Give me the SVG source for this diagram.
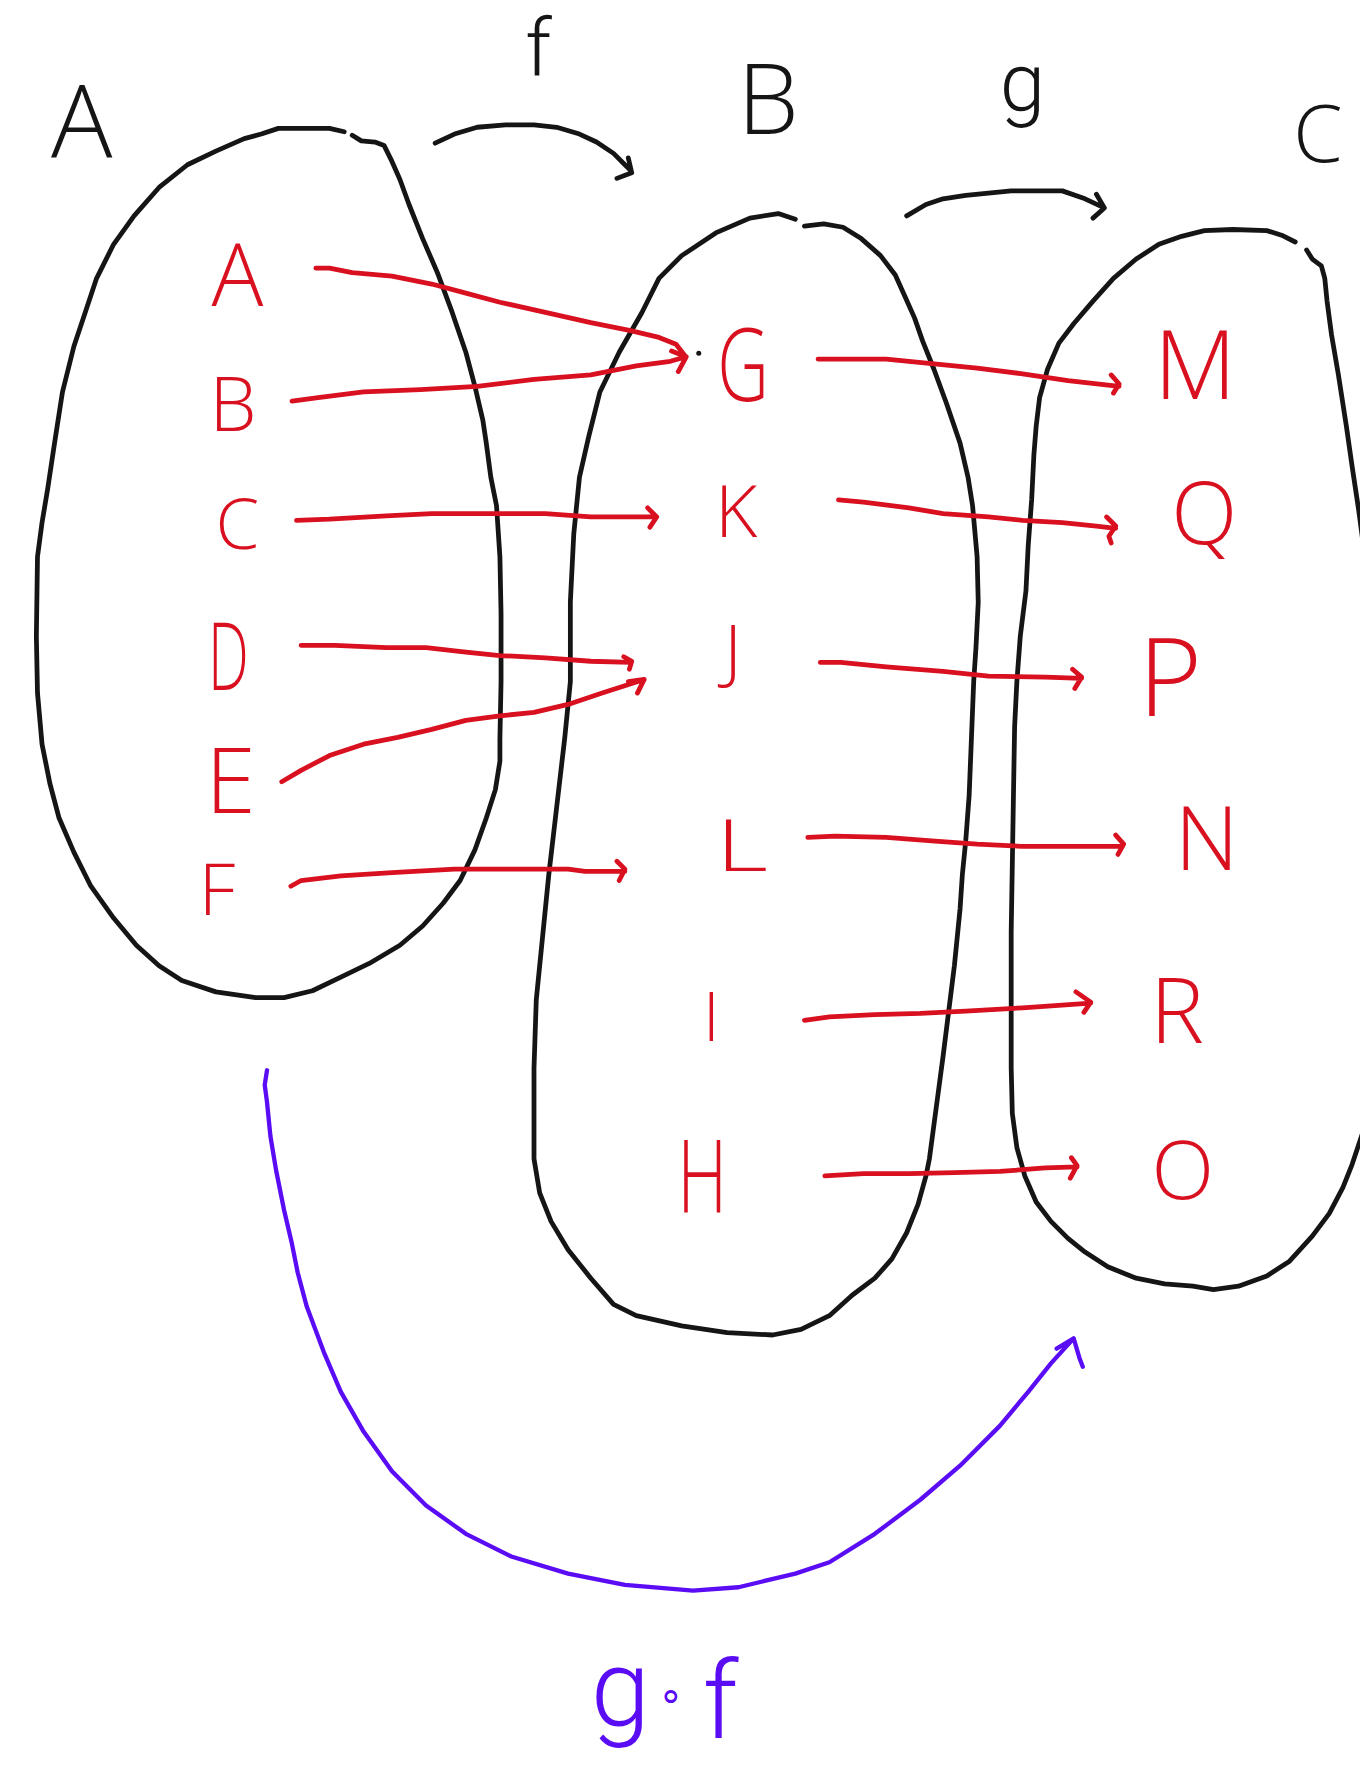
<svg xmlns="http://www.w3.org/2000/svg" width="1360" height="1782" viewBox="0 0 1360 1782">
<style>
.blk{fill:none;stroke:#151515;stroke-width:4.2;stroke-linecap:round;stroke-linejoin:round}
.red{fill:none;stroke:#d8101f;stroke-width:4.2;stroke-linecap:round;stroke-linejoin:round}
.pur{fill:none;stroke:#5a0cf5;stroke-width:3.8;stroke-linecap:round;stroke-linejoin:round}
.tb{font-family:"Open Sans","Liberation Sans",sans-serif;font-weight:300;fill:#151515;text-anchor:middle}
.tbg{font-family:Roboto,"Liberation Sans",sans-serif;font-weight:300;fill:#151515;text-anchor:middle}
.tr{font-family:"Open Sans","Liberation Sans",sans-serif;font-weight:300;fill:#d8101f;text-anchor:middle}
.tp{font-family:Roboto,"Liberation Sans",sans-serif;font-weight:300;fill:#5a0cf5;text-anchor:middle}
</style>
<rect width="1360" height="1782" fill="#ffffff"/>
<g transform="scale(1.13617)">
<g id="setA">
<path class="blk" d="M310,119 L318,124 L330,125 L338,128 L344,140 L352,158 L360,180 L372,210 L385,240 L398,275 L410,310 L418,340 L425,370 L428,390 L432,420 L437,445 L440,490 L441,540 L441,600 L440,650 L440,670 L436,695 L428,720 L418,748 L405,775 L390,795 L372,815 L352,832 L325,848 L300,860 L275,872 L250,878 L225,878 L190,873 L160,863 L140,850 L120,832 L100,808 L80,780 L65,750 L52,720 L44,690 L37,655 L33,610 L32,560 L33,490 L37,460 L42,430 L48,390 L55,345 L65,305 L75,275 L85,245 L100,215 L118,190 L140,165 L165,145 L190,133 L215,122 L230,118 L245,113 L270,113 L290,113 L303,116"/>
<text class="tb" x="72" y="139" font-size="90">A</text>
</g>
<g id="setB">
<path class="blk" d="M700,193 L685,188 L660,192 L630,205 L600,225 L580,245 L565,275 L545,310 L528,345 L518,385 L510,420 L505,470 L502,530 L502,600 L497,650 L490,710 L483,770 L477,830 L472,880 L470,940 L470,1020 L475,1050 L485,1075 L500,1100 L520,1125 L540,1148 L560,1158 L600,1167 L640,1173 L680,1175 L705,1170 L730,1158 L750,1140 L770,1125 L785,1108 L798,1085 L808,1060 L815,1035 L818,1020 L822,990 L826,960 L830,930 L835,890 L840,850 L845,800 L847,770 L850,740 L853,700 L855,650 L857,600 L859,570 L861,530 L860,490 L856,445 L852,420 L845,390 L833,355 L822,325 L812,300 L805,280 L797,262 L788,242 L775,225 L758,210 L742,200 L725,197 L708,199"/>
<text class="tb" x="676" y="118" font-size="86">B</text>
</g>
<g id="setC">
<path class="blk" d="M1140,213 L1128,207 L1115,203 L1085,202 L1060,203 L1040,208 L1020,215 L1000,228 L980,245 L962,265 L945,285 L932,302 L922,325 L915,350 L912,375 L910,400 L908,440 L905,480 L903,520 L898,560 L895,600 L893,640 L892,700 L891,760 L890,820 L890,880 L890,940 L891,980 L895,1010 L902,1035 L912,1058 L925,1075 L940,1090 L955,1102 L975,1115 L1000,1125 L1025,1130 L1050,1132 L1068,1135 L1090,1132 L1115,1123 L1135,1110 L1155,1088 L1170,1068 L1182,1045 L1190,1025 L1200,995"/>
<path class="blk" d="M1150,220 L1155,228 L1163,234 L1166,245 L1168,265 L1172,295 L1178,330 L1185,375 L1190,410 L1196,450 L1200,480"/>
<text class="tb" x="1160" y="143" font-size="70">C</text>
</g>
<g id="elemsA">
<text class="tr" x="209" y="269" font-size="76">A</text>
<text class="tr" x="205" y="379" font-size="66">B</text>
<text class="tr" x="209" y="483" font-size="62">C</text>
<text class="tr" transform="translate(201,607) scale(0.62,1)" font-size="82">D</text>
<text class="tr" x="203" y="716" font-size="80">E</text>
<text class="tr" x="191" y="805" font-size="64">F</text>
</g>
<g id="elemsB">
<text class="tr" transform="translate(654,353) scale(0.7,1)" font-size="90">G</text>
<circle cx="615" cy="311" r="2.2" fill="#151515"/>
<text class="tr" x="648" y="473" font-size="64">K</text>
<text class="tr" x="645" y="594" font-size="62">J</text>
<text class="tr" transform="translate(653,767) scale(1.4,1)" font-size="64">L</text>
<text class="tr" x="626" y="916" font-size="60">I</text>
<text class="tr" transform="translate(618,1068) scale(0.68,1)" font-size="90">H</text>
</g>
<g id="elemsC">
<text class="tr" x="1052" y="351" font-size="84">M</text>
<text class="tr" x="1060" y="479" font-size="76">Q</text>
<text class="tr" x="1030" y="630" font-size="96">P</text>
<text class="tr" x="1062" y="766" font-size="78">N</text>
<text class="tr" x="1036" y="918" font-size="80">R</text>
<text class="tr" x="1041" y="1055" font-size="72">O</text>
</g>
<g id="labels">
<text class="tbg" x="474" y="66" font-size="70">f</text>
<text class="tbg" x="900" y="98" font-size="72">g</text>
<text class="tp" font-size="94"><tspan x="546" y="1518">g</tspan><tspan x="591" y="1505" font-size="36">∘</tspan><tspan x="634" y="1530" font-size="94">f</tspan></text>
</g>
<g id="connectors">
<path class="blk" d="M383,126 L400,118 L420,112 L445,110 L470,110 L490,112 L510,118 L525,125 L540,135 L550,145 L555,150 M553,139 L556,152 M543,157 L556,152"/>
<path class="blk" d="M798,190 L815,180 L830,175 L850,172 L870,170 L890,168 L935,168 L955,175 L972,183 M965,171 L972,183 L962,192"/>
<path class="red" d="M278,236 L290,236 L310,240 L345,243 L380,250 L410,258 L440,266 L480,275 L520,284 L555,291 L580,297 L595,303 L602,312"/>
<path class="red" d="M257,353 L280,350 L320,345 L370,343 L420,340 L470,334 L520,330 L560,322 L590,318 L604,314 M591,309 L604,314 L597,327"/>
<path class="red" d="M261,458 L290,457 L340,454 L380,452 L420,452 L480,452 L520,455 L578,455 M570,447 L578,455 L572,464"/>
<path class="red" d="M265,568 L295,568 L340,570 L375,570 L410,574 L440,577 L480,579 L520,582 L555,583 M549,578 L556,582 L554,589"/>
<path class="red" d="M248,688 L265,678 L290,665 L320,655 L350,649 L380,642 L410,634 L440,630 L470,627 L500,620 L530,610 L567,598 M553,600 L567,598 L561,610"/>
<path class="red" d="M256,780 L265,775 L300,771 L345,768 L400,765 L460,765 L500,765 L515,767 L550,767 M543,758 L550,765 L545,775"/>
<path class="red" d="M720,316 L780,316 L820,320 L860,324 L900,329 L940,335 L985,340 M978,330 L985,338 L980,346"/>
<path class="red" d="M738,440 L760,442 L800,447 L830,452 L870,455 L900,458 L935,460 L965,463 L982,465 M974,455 L982,463 L976,472 L978,478"/>
<path class="red" d="M722,583 L740,583 L780,587 L830,591 L870,595 L920,596 L952,597 M944,589 L952,596 L946,606"/>
<path class="red" d="M711,737 L735,736 L780,737 L820,740 L860,743 L900,745 L988,745 M982,735 L989,743 L984,752"/>
<path class="red" d="M708,898 L730,895 L770,893 L810,892 L850,890 L900,887 L960,883 M947,873 L960,882 L954,891"/>
<path class="red" d="M726,1035 L760,1033 L800,1033 L840,1032 L880,1031 L920,1028 L948,1027 M943,1019 L948,1026 L942,1037"/>
<path class="pur" d="M235,942 L233,955 L235,970 L238,1000 L243,1030 L250,1065 L257,1095 L262,1120 L270,1150 L285,1190 L300,1225 L320,1260 L345,1295 L375,1325 L410,1350 L450,1370 L500,1385 L550,1395 L610,1400 L650,1397 L700,1385 L730,1375 L770,1350 L810,1320 L845,1290 L880,1255 L905,1225 L925,1200 L945,1178 M930,1187 L945,1178 L950,1195 L953,1203"/>
</g>
</g>
</svg>
